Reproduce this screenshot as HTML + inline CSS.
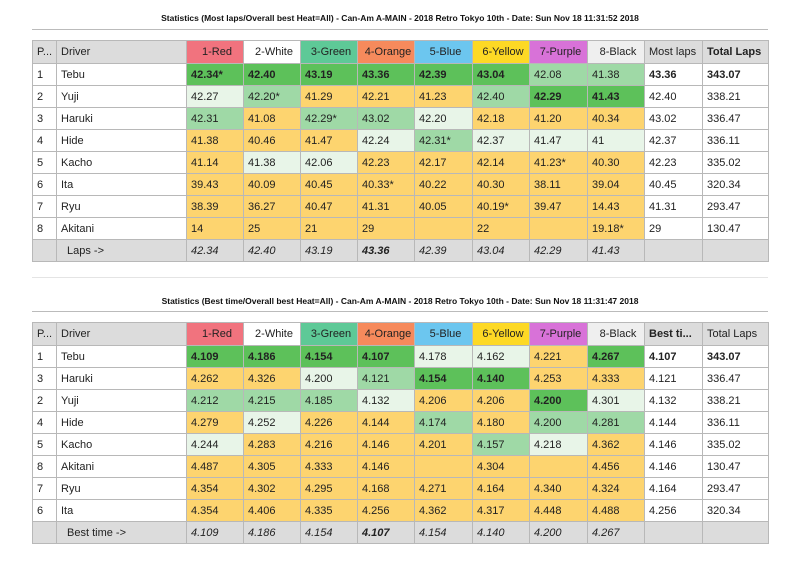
<!DOCTYPE html>
<html><head><meta charset="utf-8"><style>
body{margin:0;width:800px;height:582px;background:#fff;font-family:"Liberation Sans",sans-serif;color:#222;position:relative;overflow:hidden}
.t{position:absolute;left:0;width:800px;text-align:center;font-size:8.5px;font-weight:bold;color:#111}
.ln{position:absolute;left:32px;width:736px;height:1px;background:#bbb}
table{position:absolute;left:32px;border-collapse:collapse;table-layout:fixed;font-size:11px}
td{border:1px solid #b8b8b8;height:21px;padding:0 0 0 4px;white-space:nowrap;overflow:hidden}
tr.h td{height:22px;background:#dcdcdc}
.g{background:#5dc15a;font-weight:bold}.m{background:#9fd9a6}.l{background:#e8f5e8}.y{background:#fdd46f}.w{background:#fff}.gr{background:#dcdcdc}
.b{font-weight:bold}.i{font-style:italic;background:#dcdcdc}
.c1{background:#f1737e!important;text-align:center}.c2{background:#fff!important;text-align:center}.c3{background:#5ec997!important;text-align:center}.c4{background:#f68a5c!important;text-align:center}.c5{background:#6cc6ef!important;text-align:center}.c6{background:#fdd925!important;text-align:center}.c7{background:#d872d8!important;text-align:center}.c8{background:#efefef!important;text-align:center}
</style></head><body>
<div class="t" style="top:13px">Statistics (Most laps/Overall best Heat=All) - Can-Am A-MAIN - 2018 Retro Tokyo 10th - Date: Sun Nov 18 11:31:52 2018</div>
<div class="ln" style="top:29px"></div>
<table style="top:40px">
<colgroup><col style="width:24px"><col style="width:130px"><col style="width:57px"><col style="width:57px"><col style="width:57px"><col style="width:57px"><col style="width:58px"><col style="width:57px"><col style="width:58px"><col style="width:57px"><col style="width:58px"><col style="width:66px"></colgroup>
<tr class="h"><td>P...</td><td>Driver</td><td class="c1">1-Red</td><td class="c2">2-White</td><td class="c3">3-Green</td><td class="c4">4-Orange</td><td class="c5">5-Blue</td><td class="c6">6-Yellow</td><td class="c7">7-Purple</td><td class="c8">8-Black</td><td>Most laps</td><td class="b">Total Laps</td></tr>
<tr><td>1</td><td>Tebu</td><td class="g">42.34*</td><td class="g">42.40</td><td class="g">43.19</td><td class="g">43.36</td><td class="g">42.39</td><td class="g">43.04</td><td class="m">42.08</td><td class="m">41.38</td><td class="b">43.36</td><td class="b">343.07</td></tr>
<tr><td>2</td><td>Yuji</td><td class="l">42.27</td><td class="m">42.20*</td><td class="y">41.29</td><td class="y">42.21</td><td class="y">41.23</td><td class="m">42.40</td><td class="g">42.29</td><td class="g">41.43</td><td>42.40</td><td>338.21</td></tr>
<tr><td>3</td><td>Haruki</td><td class="m">42.31</td><td class="y">41.08</td><td class="m">42.29*</td><td class="m">43.02</td><td class="l">42.20</td><td class="y">42.18</td><td class="y">41.20</td><td class="y">40.34</td><td>43.02</td><td>336.47</td></tr>
<tr><td>4</td><td>Hide</td><td class="y">41.38</td><td class="y">40.46</td><td class="y">41.47</td><td class="l">42.24</td><td class="m">42.31*</td><td class="l">42.37</td><td class="l">41.47</td><td class="l">41</td><td>42.37</td><td>336.11</td></tr>
<tr><td>5</td><td>Kacho</td><td class="y">41.14</td><td class="l">41.38</td><td class="l">42.06</td><td class="y">42.23</td><td class="y">42.17</td><td class="y">42.14</td><td class="y">41.23*</td><td class="y">40.30</td><td>42.23</td><td>335.02</td></tr>
<tr><td>6</td><td>Ita</td><td class="y">39.43</td><td class="y">40.09</td><td class="y">40.45</td><td class="y">40.33*</td><td class="y">40.22</td><td class="y">40.30</td><td class="y">38.11</td><td class="y">39.04</td><td>40.45</td><td>320.34</td></tr>
<tr><td>7</td><td>Ryu</td><td class="y">38.39</td><td class="y">36.27</td><td class="y">40.47</td><td class="y">41.31</td><td class="y">40.05</td><td class="y">40.19*</td><td class="y">39.47</td><td class="y">14.43</td><td>41.31</td><td>293.47</td></tr>
<tr><td>8</td><td>Akitani</td><td class="y">14</td><td class="y">25</td><td class="y">21</td><td class="y">29</td><td class="y"></td><td class="y">22</td><td class="y"></td><td class="y">19.18*</td><td>29</td><td>130.47</td></tr>
<tr><td class="gr"></td><td class="gr" style="padding-left:10px">Laps -&gt;</td><td class="i">42.34</td><td class="i">42.40</td><td class="i">43.19</td><td class="i b">43.36</td><td class="i">42.39</td><td class="i">43.04</td><td class="i">42.29</td><td class="i">41.43</td><td class="gr"></td><td class="gr"></td></tr>
</table>
<div class="ln" style="top:277px;background:#e4e4e4"></div>
<div class="t" style="top:296px">Statistics (Best time/Overall best Heat=All) - Can-Am A-MAIN - 2018 Retro Tokyo 10th - Date: Sun Nov 18 11:31:47 2018</div>
<div class="ln" style="top:311px"></div>
<table style="top:322px">
<colgroup><col style="width:24px"><col style="width:130px"><col style="width:57px"><col style="width:57px"><col style="width:57px"><col style="width:57px"><col style="width:58px"><col style="width:57px"><col style="width:58px"><col style="width:57px"><col style="width:58px"><col style="width:66px"></colgroup>
<tr class="h"><td>P...</td><td>Driver</td><td class="c1">1-Red</td><td class="c2">2-White</td><td class="c3">3-Green</td><td class="c4">4-Orange</td><td class="c5">5-Blue</td><td class="c6">6-Yellow</td><td class="c7">7-Purple</td><td class="c8">8-Black</td><td class="b">Best ti...</td><td>Total Laps</td></tr>
<tr><td>1</td><td>Tebu</td><td class="g">4.109</td><td class="g">4.186</td><td class="g">4.154</td><td class="g">4.107</td><td class="l">4.178</td><td class="l">4.162</td><td class="y">4.221</td><td class="g">4.267</td><td class="b">4.107</td><td class="b">343.07</td></tr>
<tr><td>3</td><td>Haruki</td><td class="y">4.262</td><td class="y">4.326</td><td class="l">4.200</td><td class="m">4.121</td><td class="g">4.154</td><td class="g">4.140</td><td class="y">4.253</td><td class="y">4.333</td><td>4.121</td><td>336.47</td></tr>
<tr><td>2</td><td>Yuji</td><td class="m">4.212</td><td class="m">4.215</td><td class="m">4.185</td><td class="l">4.132</td><td class="y">4.206</td><td class="y">4.206</td><td class="g">4.200</td><td class="l">4.301</td><td>4.132</td><td>338.21</td></tr>
<tr><td>4</td><td>Hide</td><td class="y">4.279</td><td class="l">4.252</td><td class="y">4.226</td><td class="y">4.144</td><td class="m">4.174</td><td class="y">4.180</td><td class="m">4.200</td><td class="m">4.281</td><td>4.144</td><td>336.11</td></tr>
<tr><td>5</td><td>Kacho</td><td class="l">4.244</td><td class="y">4.283</td><td class="y">4.216</td><td class="y">4.146</td><td class="y">4.201</td><td class="m">4.157</td><td class="l">4.218</td><td class="y">4.362</td><td>4.146</td><td>335.02</td></tr>
<tr><td>8</td><td>Akitani</td><td class="y">4.487</td><td class="y">4.305</td><td class="y">4.333</td><td class="y">4.146</td><td class="y"></td><td class="y">4.304</td><td class="y"></td><td class="y">4.456</td><td>4.146</td><td>130.47</td></tr>
<tr><td>7</td><td>Ryu</td><td class="y">4.354</td><td class="y">4.302</td><td class="y">4.295</td><td class="y">4.168</td><td class="y">4.271</td><td class="y">4.164</td><td class="y">4.340</td><td class="y">4.324</td><td>4.164</td><td>293.47</td></tr>
<tr><td>6</td><td>Ita</td><td class="y">4.354</td><td class="y">4.406</td><td class="y">4.335</td><td class="y">4.256</td><td class="y">4.362</td><td class="y">4.317</td><td class="y">4.448</td><td class="y">4.488</td><td>4.256</td><td>320.34</td></tr>
<tr><td class="gr"></td><td class="gr" style="padding-left:10px">Best time -&gt;</td><td class="i">4.109</td><td class="i">4.186</td><td class="i">4.154</td><td class="i b">4.107</td><td class="i">4.154</td><td class="i">4.140</td><td class="i">4.200</td><td class="i">4.267</td><td class="gr"></td><td class="gr"></td></tr>
</table>
</body></html>
